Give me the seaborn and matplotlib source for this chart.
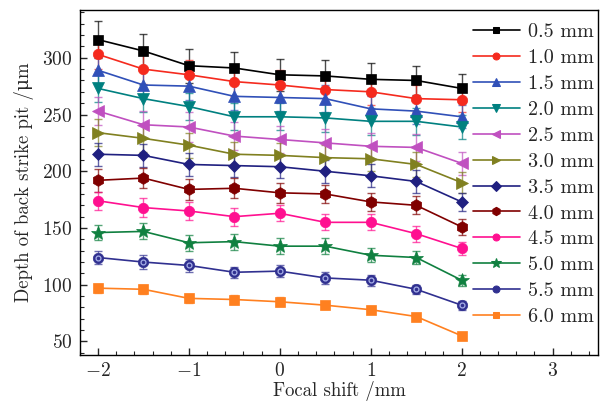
import numpy as np
import pandas as pd
import matplotlib
matplotlib.use("Agg")
import matplotlib.pyplot as plt
import seaborn as sns
from matplotlib.ticker import MultipleLocator

# focal shift positions (mm)
focal_shift = [-2.0, -1.5, -1.0, -0.5, 0.0, 0.5, 1.0, 1.5, 2.0]

# defocus labels for each curve
series_labels = ["0.5 mm", "1.0 mm", "1.5 mm", "2.0 mm", "2.5 mm", "3.0 mm",
                 "3.5 mm", "4.0 mm", "4.5 mm", "5.0 mm", "5.5 mm", "6.0 mm"]

# mean depth of the back strike pit (um)
depth_05 = [316, 306, 293, 291, 285, 284, 281, 280, 273]
depth_10 = [303, 290, 285, 279, 276, 272, 270, 264, 263]
depth_15 = [289, 276, 275, 266, 265, 264, 255, 253, 248]
depth_20 = [273, 264, 257, 248, 248, 247, 244, 244, 239]
depth_25 = [253, 241, 239, 231, 228, 225, 222, 221, 207]
depth_30 = [234, 229, 223, 215, 214, 212, 211, 206, 190]
depth_35 = [215, 214, 206, 205, 204, 200, 196, 191, 173]
depth_40 = [192, 194, 184, 185, 181, 180, 173, 170, 151]
depth_45 = [174, 168, 165, 160, 163, 155, 155, 145, 132]
depth_50 = [146, 147, 137, 138, 134, 134, 126, 124, 104]
depth_55 = [124, 120, 117, 111, 112, 106, 104, 96, 82]
depth_60 = [97, 96, 88, 87, 85, 82, 78, 72, 55]

# standard deviations (um)
err_05 = [16, 15, 15, 14, 14, 14, 14, 13, 13]
err_10 = [13, 13, 13, 13, 13, 12, 12, 12, 11]
err_15 = [12, 12, 12, 12, 12, 12, 11, 11, 10]
err_20 = [12, 12, 12, 12, 12, 12, 12, 12, 11]
err_25 = [12, 12, 13, 12, 12, 12, 12, 12, 10]
err_30 = [12, 12, 11, 11, 11, 11, 11, 11, 9]
err_35 = [10, 10, 10, 10, 10, 10, 10, 10, 8]
err_40 = [10, 9, 9, 9, 9, 8, 8, 8, 7]
err_45 = [8, 8, 8, 8, 7, 7, 7, 7, 6]
err_50 = [7, 7, 7, 7, 7, 7, 6, 6, 5]
err_55 = [6, 6, 6, 5, 5, 5, 5, 4, 4]
err_60 = [4, 4, 4, 4, 4, 3, 3, 2, 2]

depths = [depth_05, depth_10, depth_15, depth_20, depth_25, depth_30,
          depth_35, depth_40, depth_45, depth_50, depth_55, depth_60]
errors = [err_05, err_10, err_15, err_20, err_25, err_30,
          err_35, err_40, err_45, err_50, err_55, err_60]

colors = ["#000000", "#F52A1E", "#3050B8", "#008080", "#C050C0", "#808020",
          "#202080", "#800000", "#FF1090", "#108040", "#303090", "#FF8020"]
markers = ["s", "o", "^", "v", "<", ">", "D", "h", "o", "*", "o", "s"]
msizes = [7, 7.5, 8, 8, 8, 8, 6.5, 8.5, 7.5, 10, 7.5, 7]
legend_msizes = [5, 5, 6, 6, 6, 6, 5, 6, 5, 7, 5, 5]

rows = []
for lab, d, e in zip(series_labels, depths, errors):
    for x, y, s in zip(focal_shift, d, e):
        rows.append({"shift": x, "depth": y, "err": s, "series": lab})
df = pd.DataFrame(rows)

sns.set_theme(style="ticks")
plt.rcParams["font.family"] = ["cmr10", "DejaVu Serif"]
plt.rcParams["axes.formatter.use_mathtext"] = True
plt.rcParams["mathtext.fontset"] = "cm"

fig = plt.figure(figsize=(6.09, 4.04), dpi=100)
ax = fig.add_axes([0.131, 0.121, 0.851, 0.854])

palette = dict(zip(series_labels, colors))
marker_map = dict(zip(series_labels, markers))

# error bars underneath the curves
for lab, d, e, c in zip(series_labels, depths, errors, colors):
    ax.errorbar(focal_shift, d, yerr=e, fmt="none", ecolor=c, alpha=0.7,
                elinewidth=1.0, capsize=3, capthick=1.0, zorder=1)

n_before = len(ax.get_lines())
sns.lineplot(data=df, x="shift", y="depth", hue="series", style="series",
             palette=palette, markers=marker_map, dashes=False,
             linewidth=1.2, ax=ax, zorder=3, legend="full")

# solid markers in the line colour, per-series sizes
curve_lines = ax.get_lines()[n_before:n_before + len(series_labels)]
for line, ms in zip(curve_lines, msizes):
    line.set_markersize(ms)
    line.set_markeredgecolor(line.get_color())
    line.set_markerfacecolor(line.get_color())
    line.set_markeredgewidth(0.5)

# dotted centre for the 5.5 mm markers
ax.plot(focal_shift, depth_55, linestyle="none", marker="o", markersize=3.5,
        markerfacecolor="#303090", markeredgecolor="#A8B0E8",
        markeredgewidth=0.9, zorder=4)

ax.set_xlim(-2.2, 3.5)
ax.set_ylim(38, 342)
ax.xaxis.set_major_locator(MultipleLocator(1))
ax.xaxis.set_minor_locator(MultipleLocator(0.2))
ax.yaxis.set_major_locator(MultipleLocator(50))
ax.yaxis.set_minor_locator(MultipleLocator(10))
ax.tick_params(axis="both", which="major", direction="in", length=5,
               width=1.0, labelsize=14, top=False, right=False, pad=5)
ax.tick_params(axis="both", which="minor", direction="in", length=3,
               width=0.8, top=False, right=False)
for sp in ax.spines.values():
    sp.set_linewidth(1.0)
    sp.set_color("black")

ax.set_xlabel("Focal shift /mm", fontsize=13.5, labelpad=0.5)
ax.set_ylabel("Depth of back strike pit /μm", fontsize=13.5, labelpad=6)

leg = ax.legend(loc="upper right", frameon=False, fontsize=14.5,
                handlelength=2.35, handletextpad=0.4, labelspacing=0.39,
                borderaxespad=0.0, borderpad=0.2,
                bbox_to_anchor=(1.0, 0.975))
for h, ms, c in zip(leg.legend_handles, legend_msizes, colors):
    h.set_markersize(ms)
    h.set_linewidth(1.2)
    h.set_markeredgecolor(c)
    h.set_markerfacecolor(c)

fig.savefig("out.png", dpi=100)
